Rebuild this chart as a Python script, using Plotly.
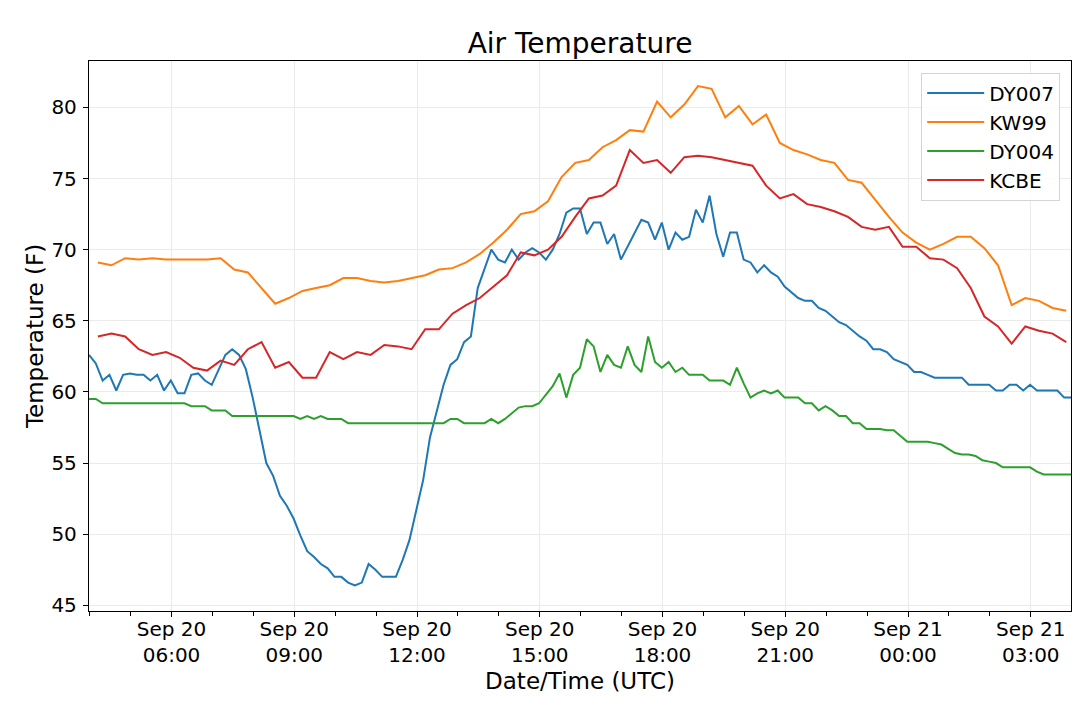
import pandas as pd
import plotly.graph_objects as go

# station readings, deg F
# DY stations: every 10 min from 03:59 UTC Sep 20
dy007 = [62.6, 62.0, 60.8, 61.2, 60.1, 61.2, 61.3, 61.2, 61.2, 60.8,
         61.2, 60.1, 60.8, 59.9, 59.9, 61.2, 61.3, 60.8, 60.5, 61.5,
         62.6, 63.0, 62.6, 61.6, 59.6, 57.3, 55.0, 54.1, 52.7, 52.0,
         51.1, 49.9, 48.8, 48.4, 47.9, 47.6, 47.0, 47.0, 46.6, 46.4,
         46.6, 47.9, 47.5, 47.0, 47.0, 47.0, 48.2, 49.6, 51.7, 53.8,
         56.8, 58.7, 60.5, 61.9, 62.3, 63.5, 63.9, 67.3, 68.7, 70.0,
         69.3, 69.1, 70.0, 69.3, 69.8, 70.1, 69.8, 69.3, 70.0, 71.1,
         72.6, 72.9, 72.9, 71.1, 71.9, 71.9, 70.4, 71.1, 69.3, 70.2,
         71.1, 72.1, 71.9, 70.7, 71.9, 70.0, 71.2, 70.7, 70.9, 72.8,
         71.9, 73.8, 71.1, 69.5, 71.2, 71.2, 69.3, 69.1, 68.4, 68.9,
         68.4, 68.1, 67.4, 67.0, 66.6, 66.4, 66.4, 65.9, 65.7, 65.3,
         64.9, 64.7, 64.3, 63.9, 63.6, 63.0, 63.0, 62.8, 62.3, 62.1,
         61.9, 61.4, 61.4, 61.2, 61.0, 61.0, 61.0, 61.0, 61.0, 60.5,
         60.5, 60.5, 60.5, 60.1, 60.1, 60.5, 60.5, 60.1, 60.5, 60.1,
         60.1, 60.1, 60.1, 59.6, 59.6]

dy004 = [59.5, 59.5, 59.2, 59.2, 59.2, 59.2, 59.2, 59.2, 59.2, 59.2,
         59.2, 59.2, 59.2, 59.2, 59.2, 59.0, 59.0, 59.0, 58.7, 58.7,
         58.7, 58.3, 58.3, 58.3, 58.3, 58.3, 58.3, 58.3, 58.3, 58.3,
         58.3, 58.1, 58.3, 58.1, 58.3, 58.1, 58.1, 58.1, 57.8, 57.8,
         57.8, 57.8, 57.8, 57.8, 57.8, 57.8, 57.8, 57.8, 57.8, 57.8,
         57.8, 57.8, 57.8, 58.1, 58.1, 57.8, 57.8, 57.8, 57.8, 58.1,
         57.8, 58.1, 58.5, 58.9, 59.0, 59.0, 59.2, 59.8, 60.4, 61.3,
         59.6, 61.2, 61.7, 63.7, 63.2, 61.4, 62.6, 61.9, 61.7, 63.2,
         61.9, 61.4, 63.9, 62.1, 61.7, 62.1, 61.4, 61.7, 61.2, 61.2,
         61.2, 60.8, 60.8, 60.8, 60.5, 61.7, 60.6, 59.6, 59.9, 60.1,
         59.9, 60.1, 59.6, 59.6, 59.6, 59.2, 59.2, 58.7, 59.0, 58.7,
         58.3, 58.3, 57.8, 57.8, 57.4, 57.4, 57.4, 57.3, 57.3, 56.9,
         56.5, 56.5, 56.5, 56.5, 56.4, 56.3, 56.0, 55.7, 55.6, 55.6,
         55.5, 55.2, 55.1, 55.0, 54.7, 54.7, 54.7, 54.7, 54.7, 54.4,
         54.2, 54.2, 54.2, 54.2, 54.2]

# airport stations: every 20 min from 04:12 UTC
kw99 = [69.1, 68.9, 69.4, 69.3, 69.4, 69.3, 69.3, 69.3, 69.3, 69.4,
        68.6, 68.4, 67.3, 66.2, 66.6, 67.1, 67.3, 67.5, 68.0, 68.0,
        67.8, 67.7, 67.8, 68.0, 68.2, 68.6, 68.7, 69.1, 69.7, 70.5,
        71.4, 72.5, 72.7, 73.4, 75.1, 76.1, 76.3, 77.2, 77.7, 78.4,
        78.3, 80.4, 79.3, 80.2, 81.5, 81.3, 79.3, 80.1, 78.8, 79.5,
        77.5, 77.0, 76.7, 76.3, 76.1, 74.9, 74.7, 73.5, 72.3, 71.2,
        70.5, 70.0, 70.4, 70.9, 70.9, 70.1, 68.9, 66.1, 66.6, 66.4,
        65.9, 65.7]

kcbe = [63.9, 64.1, 63.9, 63.0, 62.6, 62.8, 62.4, 61.7, 61.5, 62.2,
        61.9, 63.0, 63.5, 61.7, 62.1, 61.0, 61.0, 62.8, 62.3, 62.8,
        62.6, 63.3, 63.2, 63.0, 64.4, 64.4, 65.5, 66.1, 66.6, 67.4,
        68.2, 69.8, 69.6, 70.0, 70.9, 72.3, 73.6, 73.8, 74.5, 77.0,
        76.1, 76.3, 75.4, 76.5, 76.6, 76.5, 76.3, 76.1, 75.9, 74.5,
        73.6, 73.9, 73.2, 73.0, 72.7, 72.3, 71.6, 71.4, 71.6, 70.2,
        70.2, 69.4, 69.3, 68.7, 67.3, 65.3, 64.6, 63.4, 64.6, 64.3,
        64.1, 63.5]

dy_times = pd.date_range('2019-09-20 03:59', periods=len(dy007), freq='10min')
awos_times = pd.date_range('2019-09-20 04:12', periods=len(kw99), freq='20min')

series = [
    ('DY007', dy_times, dy007, '#1f77b4'),
    ('KW99', awos_times, kw99, '#ff7f0e'),
    ('DY004', dy_times, dy004, '#2ca02c'),
    ('KCBE', awos_times, kcbe, '#d62728'),
]

fig = go.Figure()
for name, t, vals, color in series:
    fig.add_trace(go.Scatter(x=t, y=vals, mode='lines', name=name,
                             line=dict(color=color, width=2)))

# page body adds an 8px offset, so the figure is a little smaller than the window
font = 'DejaVu Sans'
fig.update_layout(
    width=1072, height=701,
    margin=dict(l=81, r=9, t=53, b=98),
    paper_bgcolor='white', plot_bgcolor='white',
    font=dict(family=font, size=20, color='black'),
    title=dict(text='Air Temperature', x=0.5, xref='paper', xanchor='center',
               y=1 - 35 / 701, yref='container', yanchor='middle',
               font=dict(size=28)),
    legend=dict(x=0.989, y=0.979, xanchor='right', yanchor='top',
                bgcolor='rgba(255,255,255,0.85)', bordercolor='#d4d4d4',
                borderwidth=1, font=dict(size=20), itemwidth=57),
    showlegend=True,
)
fig.update_xaxes(
    automargin=False,
    range=['2019-09-20 03:59', '2019-09-21 03:59'],
    dtick=3 * 3600000, tick0='2019-09-20 00:00',
    tickformat='%b %d<br>%H:%M',
    ticks='outside', ticklen=5, tickcolor='black', ticklabelstandoff=-5,
    showgrid=True, gridcolor='#ebebeb', gridwidth=1,
    showline=True, linecolor='black', linewidth=1.3, mirror=True,
    zeroline=False,
    minor=dict(dtick=3600000, ticks='outside', ticklen=3.5,
               tickcolor='black', showgrid=False),
    title=dict(text='Date/Time (UTC)', font=dict(size=23), standoff=6),
)
fig.update_yaxes(
    automargin=False,
    range=[44.6, 83.26], dtick=5,
    ticks='outside', ticklen=5, tickcolor='black', ticklabelstandoff=2,
    showgrid=True, gridcolor='#ebebeb', gridwidth=1,
    showline=True, linecolor='black', linewidth=1.3, mirror=True,
    zeroline=False,
    title=dict(text='Temperature (F)', font=dict(size=23), standoff=1),
)

fig.write_html("out.html")
